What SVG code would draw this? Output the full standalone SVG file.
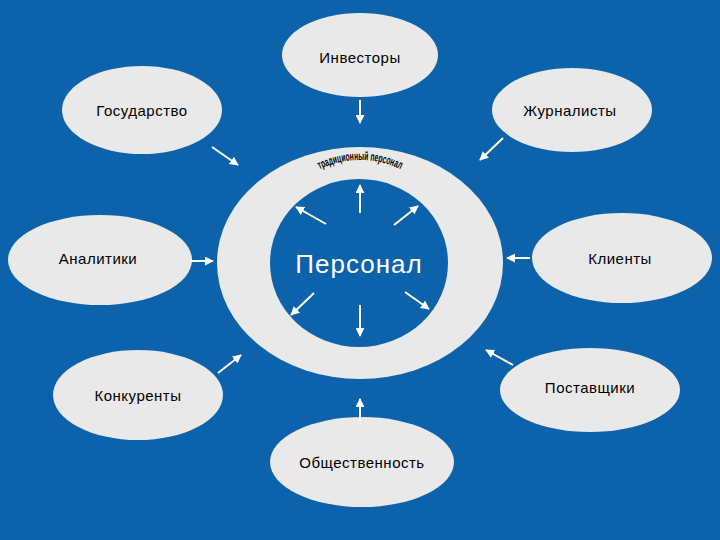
<svg xmlns="http://www.w3.org/2000/svg" width="720" height="540" viewBox="0 0 720 540">
<style>
.n{fill:#e9e9e9}
.t{font-family:"Liberation Sans",Arial,sans-serif;font-size:15px;fill:#000;text-anchor:middle;letter-spacing:0.5px}
.a{stroke:#fff;stroke-width:2;fill:none;marker-end:url(#m)}
</style>
<defs>
<marker id="m" viewBox="0 0 10 10" refX="9" refY="5" markerWidth="4.5" markerHeight="4.5" orient="auto"><path d="M0,0L10,5L0,10z" fill="#fff"/></marker>
<path id="arc" d="M318,170 Q360,150 402,170"/>
</defs>
<rect width="720" height="540" fill="#0d62ac"/>
<g id="ring">
<ellipse cx="360" cy="263" rx="143" ry="116" class="n"/>
<ellipse cx="359" cy="263" rx="89" ry="84" fill="#0d62ac"/>
<text class="t" style="font-size:26px;fill:#fff;letter-spacing:1px" x="359" y="273">Персонал</text>
<text style="font-family:'Liberation Sans',Arial,sans-serif;font-size:12px;font-weight:bold" text-anchor="middle"><textPath href="#arc" startOffset="50%" textLength="84" lengthAdjust="spacingAndGlyphs">традиционный персонал</textPath></text>
</g>
<g id="inv"><ellipse class="n" cx="360" cy="55" rx="78" ry="42"/><text class="t" x="360" y="63">Инвесторы</text></g>
<g id="gos"><ellipse class="n" cx="142" cy="110" rx="80" ry="44"/><text class="t" x="142" y="116">Государство</text></g>
<g id="zhur"><ellipse class="n" cx="572" cy="110" rx="80" ry="42"/><text class="t" x="570" y="116">Журналисты</text></g>
<g id="anal"><ellipse class="n" cx="100" cy="260" rx="92" ry="45"/><text class="t" x="98" y="264">Аналитики</text></g>
<g id="kli"><ellipse class="n" cx="622" cy="258" rx="90" ry="45"/><text class="t" x="620" y="264">Клиенты</text></g>
<g id="konk"><ellipse class="n" cx="138" cy="395" rx="85" ry="45"/><text class="t" x="138" y="401">Конкуренты</text></g>
<g id="post"><ellipse class="n" cx="590" cy="390" rx="90" ry="42"/><text class="t" x="590" y="393">Поставщики</text></g>
<g id="obsh"><ellipse class="n" cx="362" cy="462" rx="92" ry="45"/><text class="t" x="362" y="468">Общественность</text></g>
<g id="connectors">
<line class="a" x1="360" y1="100" x2="360" y2="123"/>
<line class="a" x1="212" y1="147" x2="238" y2="165"/>
<line class="a" x1="503" y1="138" x2="480" y2="160"/>
<line class="a" x1="190" y1="261" x2="213" y2="261"/>
<line class="a" x1="530" y1="258" x2="507" y2="258"/>
<line class="a" x1="218" y1="373" x2="241" y2="355"/>
<line class="a" x1="513" y1="365" x2="486" y2="350"/>
<line class="a" x1="360" y1="421" x2="360" y2="399"/>
<line class="a" x1="360" y1="213" x2="360" y2="185"/>
<line class="a" x1="326" y1="224" x2="296" y2="207"/>
<line class="a" x1="394" y1="225" x2="418" y2="206"/>
<line class="a" x1="314" y1="293" x2="291" y2="315"/>
<line class="a" x1="360" y1="305" x2="360" y2="336"/>
<line class="a" x1="405" y1="292" x2="429" y2="309"/>
</g>
</svg>
